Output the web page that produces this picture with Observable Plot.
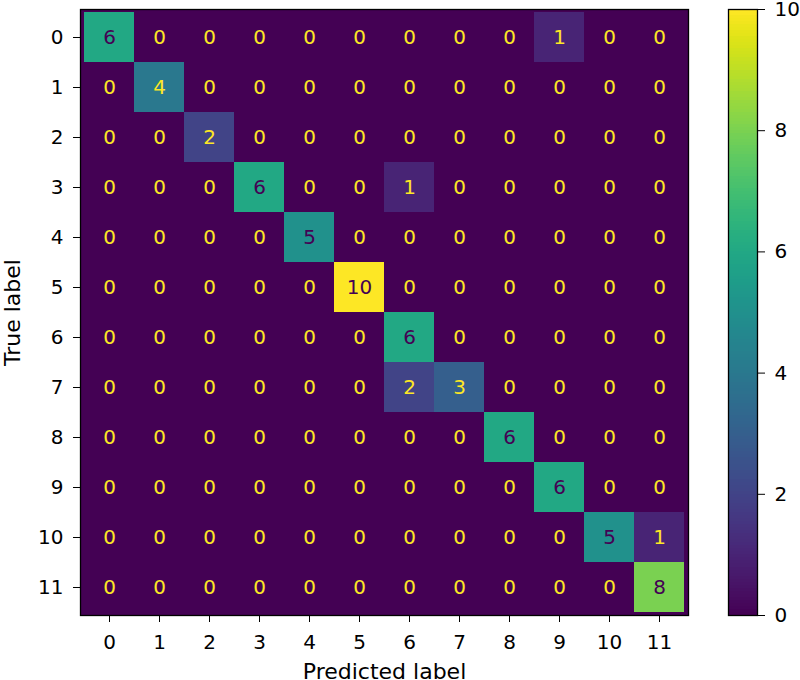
<!DOCTYPE html>
<html>
<head>
<meta charset="utf-8">
<script src="https://cdn.jsdelivr.net/npm/d3@7"></script>
<script src="https://cdn.jsdelivr.net/npm/@observablehq/plot@0.6"></script>
<style>
  html, body { margin: 0; padding: 0; background: #fff; }
  #wrap { position: relative; width: 800px; height: 680px; overflow: hidden; }
  #wrap svg { position: absolute; top: 0; overflow: visible; font-family: "DejaVu Sans", sans-serif; }
  #wrap svg text { font-family: "DejaVu Sans", sans-serif; }
</style>
</head>
<body>
<div id="wrap"></div>
<script>
// Class labels (true = rows, predicted = columns)
const classes = [0, 1, 2, 3, 4, 5, 6, 7, 8, 9, 10, 11];
// Confusion matrix rows (true label)
const row0  = [6, 0, 0, 0, 0, 0, 0, 0, 0, 1, 0, 0];
const row1  = [0, 4, 0, 0, 0, 0, 0, 0, 0, 0, 0, 0];
const row2  = [0, 0, 2, 0, 0, 0, 0, 0, 0, 0, 0, 0];
const row3  = [0, 0, 0, 6, 0, 0, 1, 0, 0, 0, 0, 0];
const row4  = [0, 0, 0, 0, 5, 0, 0, 0, 0, 0, 0, 0];
const row5  = [0, 0, 0, 0, 0, 10, 0, 0, 0, 0, 0, 0];
const row6  = [0, 0, 0, 0, 0, 0, 6, 0, 0, 0, 0, 0];
const row7  = [0, 0, 0, 0, 0, 0, 2, 3, 0, 0, 0, 0];
const row8  = [0, 0, 0, 0, 0, 0, 0, 0, 6, 0, 0, 0];
const row9  = [0, 0, 0, 0, 0, 0, 0, 0, 0, 6, 0, 0];
const row10 = [0, 0, 0, 0, 0, 0, 0, 0, 0, 0, 5, 1];
const row11 = [0, 0, 0, 0, 0, 0, 0, 0, 0, 0, 0, 8];
const colorbarTicks = [0, 2, 4, 6, 8, 10];

const matrix = [row0, row1, row2, row3, row4, row5, row6, row7, row8, row9, row10, row11];
const cells = [];
matrix.forEach((r, i) => r.forEach((v, j) => cells.push({t: classes[i], p: classes[j], v})));
const vmin = 0, vmax = 10;
const thresh = (vmin + vmax) / 2;
const lo = d3.interpolateViridis(0), hi = d3.interpolateViridis(1);
const FONT = 20;
const LABEL = 22;

const main = Plot.plot({
  width: 800,
  height: 680,
  marginLeft: 80,
  marginRight: 112,
  marginTop: 9,
  marginBottom: 65,
  style: {fontFamily: "DejaVu Sans, sans-serif", fontSize: FONT + "px", color: "#000", background: "transparent", overflow: "visible"},
  x: {type: "band", domain: classes, padding: 0},
  y: {type: "band", domain: classes, padding: 0},
  color: {type: "linear", scheme: "viridis", domain: [vmin, vmax]},
  marks: [
    Plot.frame({fill: lo}),
    Plot.cell(cells, {x: "p", y: "t", fill: "v", inset: 0, shapeRendering: "crispEdges"}),
    Plot.text(cells.filter(d => d.v < thresh), {x: "p", y: "t", text: d => String(d.v), fill: hi, fontSize: FONT}),
    Plot.text(cells.filter(d => d.v >= thresh), {x: "p", y: "t", text: d => String(d.v), fill: lo, fontSize: FONT}),
    Plot.frame({stroke: "#000", strokeWidth: 1.3}),
    Plot.axisX({anchor: "bottom", tickSize: 7, tickPadding: 12, fontSize: FONT, label: null}),
    Plot.axisX([], {anchor: "bottom", tickSize: 0, fontSize: LABEL,
      label: "Predicted label", labelAnchor: "center", labelOffset: 63}),
    Plot.axisY({anchor: "left", tickSize: 7, tickPadding: 10, fontSize: FONT, label: null}),
    Plot.axisY([], {anchor: "left", tickSize: 0, fontSize: LABEL,
      label: "True label", labelAnchor: "center", labelOffset: 76})
  ]
});
main.style.left = "0px";

const steps = d3.range(vmin, vmax, 0.05);
const bar = Plot.plot({
  width: 100,
  height: 680,
  marginLeft: 28,
  marginRight: 43,
  marginTop: 9,
  marginBottom: 65,
  style: {fontFamily: "DejaVu Sans, sans-serif", fontSize: FONT + "px", color: "#000", background: "transparent", overflow: "visible"},
  x: {axis: null, domain: [0, 1]},
  y: {domain: [vmin, vmax], ticks: colorbarTicks},
  color: {type: "linear", scheme: "viridis", domain: [vmin, vmax]},
  marks: [
    Plot.rectY(steps, {x1: 0, x2: 1, y1: d => d, y2: d => Math.min(vmax, d + 0.06), fill: d => d + 0.025, inset: 0, shapeRendering: "crispEdges"}),
    Plot.frame({stroke: "#000", strokeWidth: 1.3}),
    Plot.axisY(colorbarTicks, {anchor: "right", tickSize: 7, tickPadding: 10, fontSize: FONT, tickFormat: d3.format("d"), label: null})
  ]
});
bar.style.left = "700px";

const wrap = document.getElementById("wrap");
wrap.appendChild(main);
wrap.appendChild(bar);
</script>
</body>
</html>
